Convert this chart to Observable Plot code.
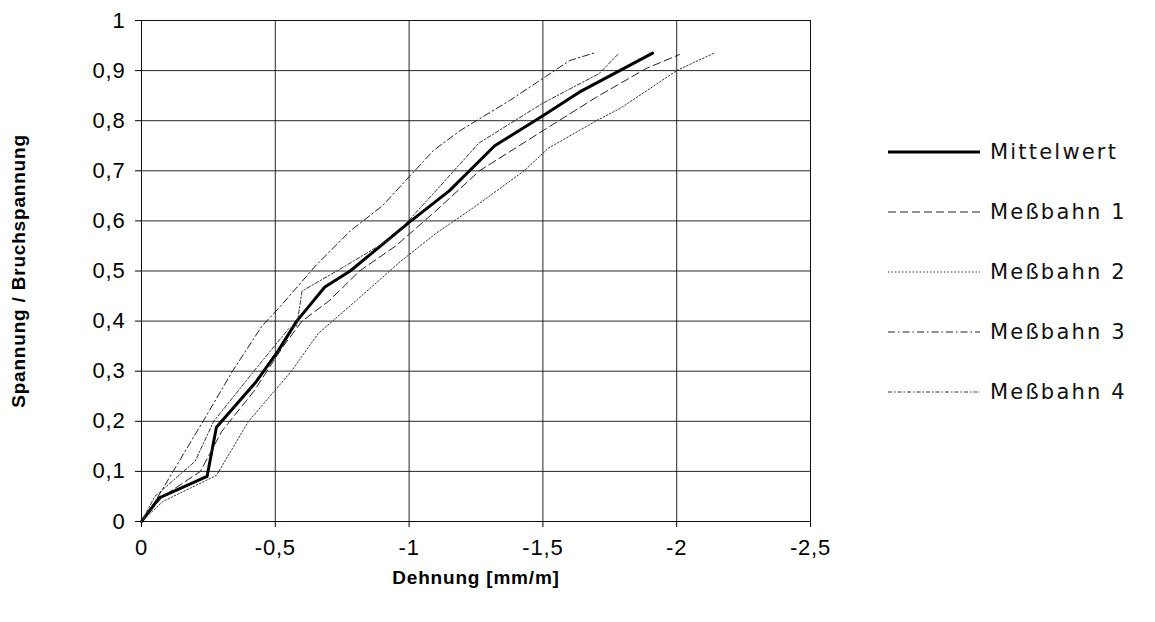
<!DOCTYPE html>
<html>
<head>
<meta charset="utf-8">
<script src="https://cdn.jsdelivr.net/npm/d3@7"></script>
<script src="https://cdn.jsdelivr.net/npm/@observablehq/plot@0.6"></script>
<style>
  body { margin: 0; background: #fff; }
  #wrap { position: relative; width: 1155px; height: 622px; }
  #legend { position: absolute; left: 0; top: 0; font-family: "DejaVu Sans", sans-serif; font-size: 21px; letter-spacing: 2.2px; color: #111; }
  .row { position: absolute; left: 888px; height: 40px; display: flex; align-items: center; white-space: nowrap; }
  .row svg { margin-right: 10px; }
</style>
</head>
<body>
<div id="wrap"><div id="legend"></div></div>
<script>
// Tick values
const xTicks = [0, -0.5, -1, -1.5, -2, -2.5];
const yTicks = [0, 0.1, 0.2, 0.3, 0.4, 0.5, 0.6, 0.7, 0.8, 0.9, 1];

// Series names
const seriesNames = ["Mittelwert", "Meßbahn 1", "Meßbahn 2", "Meßbahn 3", "Meßbahn 4"];

// Mittelwert
const mittelX = [0, -0.066, -0.245, -0.28, -0.43, -0.51, -0.58, -0.685, -0.78, -1.0, -1.15, -1.32, -1.5, -1.636, -1.91];
const mittelY = [0, 0.047, 0.09, 0.188, 0.28, 0.34, 0.40, 0.468, 0.50, 0.597, 0.66, 0.75, 0.81, 0.857, 0.935];

// Meßbahn 1 (dashed)
const m1X = [0, -0.08, -0.22, -0.3, -0.42, -0.53, -0.6, -0.7, -0.815, -0.95, -1.1, -1.263, -1.5, -1.7, -1.885, -2.01];
const m1Y = [0, 0.05, 0.1, 0.18, 0.26, 0.35, 0.40, 0.44, 0.50, 0.55, 0.62, 0.70, 0.78, 0.847, 0.904, 0.932];

// Meßbahn 2 (dotted)
const m2X = [0, -0.08, -0.28, -0.4, -0.56, -0.66, -0.8, -0.97, -1.1, -1.25, -1.43, -1.52, -1.7, -1.79, -2.0, -2.14];
const m2Y = [0, 0.04, 0.092, 0.2, 0.30, 0.375, 0.44, 0.52, 0.575, 0.63, 0.70, 0.745, 0.80, 0.825, 0.90, 0.935];

// Meßbahn 3 (dash-dot)
const m3X = [0, -0.06, -0.23, -0.34, -0.45, -0.52, -0.65, -0.78, -0.9, -1.09, -1.19, -1.375, -1.6, -1.69];
const m3Y = [0, 0.048, 0.20, 0.30, 0.39, 0.43, 0.51, 0.58, 0.63, 0.74, 0.78, 0.84, 0.92, 0.935];

// Meßbahn 4 (fine dash-dot)
const m4X = [0, -0.05, -0.2, -0.27, -0.42, -0.55, -0.58, -0.6, -0.73, -0.94, -1.1, -1.26, -1.5, -1.71, -1.785];
const m4Y = [0, 0.05, 0.12, 0.2, 0.3, 0.385, 0.39, 0.46, 0.50, 0.567, 0.66, 0.755, 0.835, 0.894, 0.935];

const xs = [mittelX, m1X, m2X, m3X, m4X];
const ys = [mittelY, m1Y, m2Y, m3Y, m4Y];

const styles = [
  {stroke: "#000", strokeWidth: 3, strokeDasharray: null},
  {stroke: "#222", strokeWidth: 1, strokeDasharray: "8,4"},
  {stroke: "#333", strokeWidth: 1, strokeDasharray: "1.5,2"},
  {stroke: "#222", strokeWidth: 1, strokeDasharray: "7,3,1.5,3"},
  {stroke: "#333", strokeWidth: 1, strokeDasharray: "4,2,1.5,2"}
];

const tables = seriesNames.map((name, i) => xs[i].map((x, j) => ({series: name, x, y: ys[i][j]})));

const fmt = d => String(d).replace(".", ",");

const plot = Plot.plot({
  width: 1155,
  height: 622,
  marginLeft: 141,
  marginRight: 345,
  marginTop: 20,
  marginBottom: 101,
  style: {fontFamily: "'Liberation Sans', Arial, sans-serif", fontSize: "22px", color: "#000", background: "#fff", letterSpacing: "0.8px"},
  x: {domain: [0, -2.5]},
  y: {domain: [0, 1]},
  marks: [
    Plot.gridX(xTicks, {stroke: "#111", strokeOpacity: 0.9}),
    Plot.gridY(yTicks, {stroke: "#111", strokeOpacity: 0.9}),
    Plot.frame({stroke: "#111"}),
    Plot.axisX({ticks: xTicks, tickFormat: fmt, tickSize: 6, tickPadding: 12, label: null, fontSize: 22}),
    Plot.axisY({ticks: yTicks, tickFormat: fmt, tickSize: 6, tickPadding: 10, label: null, fontSize: 22}),
    ...tables.map((t, i) => Plot.line(t, {x: "x", y: "y", ...styles[i], strokeLinejoin: "round"})),
    Plot.text(["Dehnung [mm/m]"], {frameAnchor: "bottom", dy: 62, fontWeight: "bold", fontSize: 19, textAnchor: "middle"}),
    Plot.text(["Spannung / Bruchspannung"], {frameAnchor: "left", dx: -123, rotate: -90, fontWeight: "bold", fontSize: 19, textAnchor: "middle"})
  ]
});
document.getElementById("wrap").prepend(plot);

// Legend
const legend = document.getElementById("legend");
seriesNames.forEach((name, i) => {
  const row = document.createElement("div");
  row.className = "row";
  row.style.top = (152 - 20 + i * 60) + "px";
  const s = styles[i];
  row.innerHTML = `<svg width="92" height="10"><line x1="0" x2="92" y1="5" y2="5" stroke="${s.stroke}" stroke-width="${s.strokeWidth}" ${s.strokeDasharray ? `stroke-dasharray="${s.strokeDasharray}"` : ""}/></svg><span>${name}</span>`;
  legend.appendChild(row);
});
</script>
</body>
</html>
